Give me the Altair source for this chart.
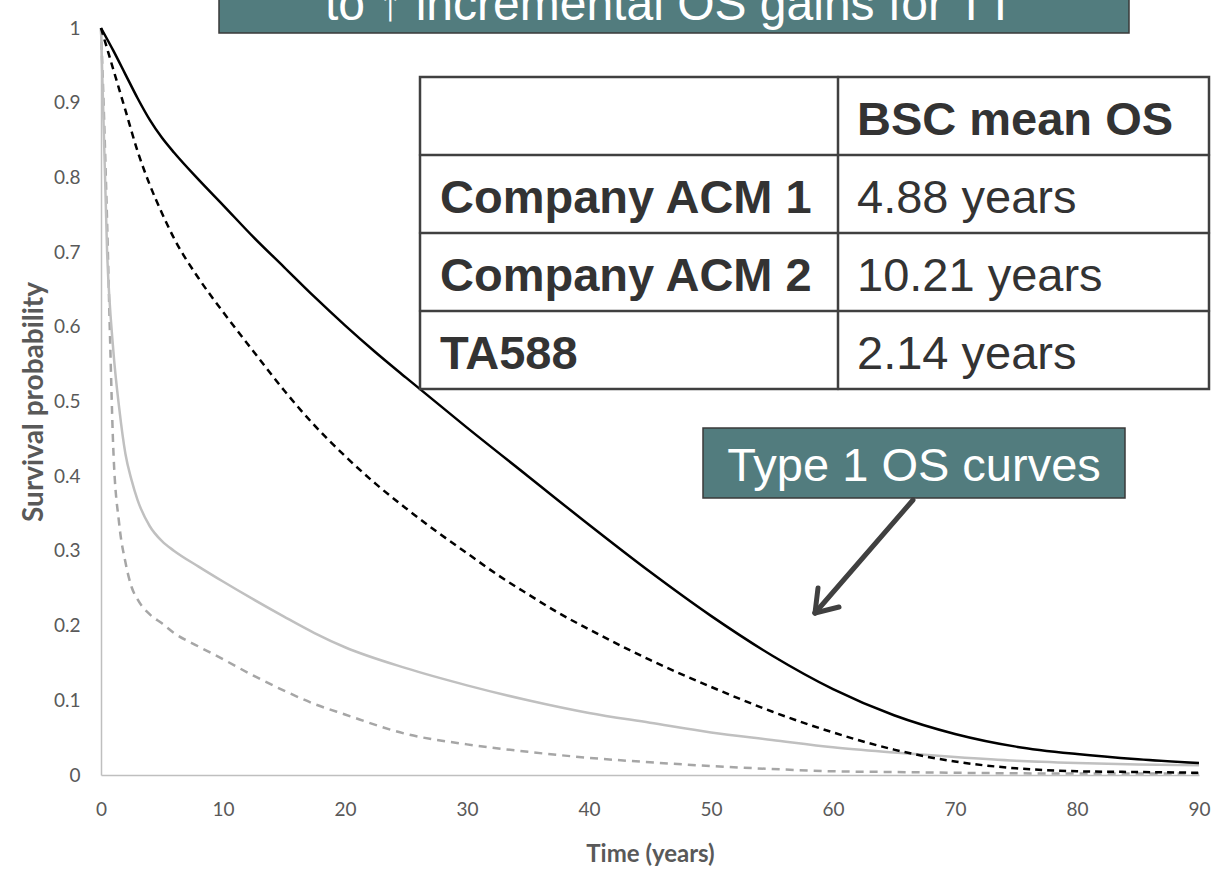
import altair as alt
import pandas as pd

# ---- survival curves (time in years, survival probability) ----
black_solid_t = [0, 1, 2, 3, 4, 5, 6, 8, 10, 12.5, 15, 17.5, 20, 22.5, 25, 30, 35, 40, 45, 50, 55, 60, 65, 70, 75,
                 80, 85, 90]
black_solid_s = [1.0, 0.97, 0.938, 0.906, 0.877, 0.853, 0.833, 0.797, 0.763, 0.72, 0.68, 0.64, 0.602, 0.566,
                 0.532, 0.465, 0.40, 0.335, 0.272, 0.213, 0.16, 0.115, 0.08, 0.055, 0.038, 0.028, 0.021, 0.016]

black_dashed_t = [0, 1, 2, 3, 4, 5, 6, 8, 10, 12.5, 15, 17.5, 20, 22.5, 25, 27.5, 30, 32.5, 35, 37.5, 40, 45, 50,
                  55, 60, 65, 70, 75, 80, 85, 90]
black_dashed_s = [1.0, 0.945, 0.89, 0.835, 0.79, 0.752, 0.718, 0.665, 0.62, 0.567, 0.515, 0.468, 0.427, 0.39,
                  0.357, 0.326, 0.297, 0.268, 0.242, 0.217, 0.195, 0.154, 0.118, 0.085, 0.057, 0.034, 0.018, 0.009,
                  0.005, 0.004, 0.003]

grey_solid_t = [0, 0.5, 1, 1.5, 2, 2.5, 3, 4, 5, 6, 8, 10, 12.5, 15, 17.5, 20, 25, 30, 35, 40, 45, 50, 55, 60, 65,
                70, 75, 80, 85, 90]
grey_solid_s = [1.0, 0.70, 0.57, 0.49, 0.43, 0.395, 0.368, 0.333, 0.313, 0.30, 0.279, 0.259, 0.235, 0.212, 0.19,
                0.171, 0.143, 0.12, 0.10, 0.083, 0.07, 0.057, 0.047, 0.037, 0.03, 0.024, 0.019, 0.016, 0.014, 0.013]

grey_dashed_t = [0, 0.25, 0.5, 0.75, 1, 1.5, 2, 2.5, 3, 4, 5, 6, 8, 10, 12.5, 15, 17.5, 20, 25, 30, 35, 40, 45, 50,
                 55, 60, 65, 70, 80, 90]
grey_dashed_s = [1.0, 0.88, 0.74, 0.58, 0.44, 0.335, 0.285, 0.252, 0.235, 0.215, 0.203, 0.19, 0.172, 0.155, 0.133,
                 0.113, 0.095, 0.081, 0.055, 0.041, 0.031, 0.023, 0.017, 0.012, 0.008, 0.005, 0.004, 0.003, 0.002,
                 0.002]

# ---- summary table ----
header_text = "BSC mean OS"
row_labels = ["Company ACM 1", "Company ACM 2", "TA588"]
bsc_mean_os = [4.88, 10.21, 2.14]

x_ticks = list(range(0, 91, 10))
y_ticks = [round(i * 0.1, 1) for i in range(11)]

W, H = 1098, 747
AXIS_GREY = "#595959"
TEAL = "#527c7e"
INK = "#333333"
LINE = "#404040"

x_enc = alt.X(
    "t:Q",
    scale=alt.Scale(domain=[0, 90], nice=False),
    title="Time (years)",
    axis=alt.Axis(
        values=x_ticks, grid=False, ticks=False, tickSize=0, labelFlush=False,
        domainColor="#bfbfbf", domainWidth=1.5,
        labelFont="Lato", labelFontSize=19, labelColor=AXIS_GREY, labelPadding=25,
        titleFont="Lato", titleFontWeight="bold", titleFontSize=24, titleColor=AXIS_GREY,
        titleBaseline="alphabetic", titleX=W / 2, titleY=86,
    ),
)
y_enc = alt.Y(
    "s:Q",
    scale=alt.Scale(domain=[0, 1], nice=False),
    title="Survival probability",
    axis=alt.Axis(
        values=y_ticks, format="~g", grid=False, ticks=False, tickSize=0, labelFlush=False,
        domainColor="#bfbfbf", domainWidth=1.5,
        labelFont="Lato", labelFontSize=19, labelColor=AXIS_GREY, labelPadding=21,
        titleFont="Lato", titleFontWeight="bold", titleFontSize=28, titleColor=AXIS_GREY,
        titleBaseline="alphabetic", titleAngle=270, titleX=-59, titleY=H / 2,
    ),
)


def curve(ts, ss, color, width, dash=None):
    df = pd.DataFrame({"t": ts, "s": ss})
    kw = dict(color=color, strokeWidth=width, interpolate="monotone")
    if dash:
        kw["strokeDash"] = dash
    return alt.Chart(df).mark_line(**kw).encode(x=x_enc, y=y_enc)


blank = alt.Data(values=[{}])


def rect(x, x2, y, y2, fill, stroke, sw):
    return alt.Chart(blank).mark_rect(fill=fill, stroke=stroke, strokeWidth=sw).encode(
        x=alt.value(x), x2=alt.value(x2), y=alt.value(y), y2=alt.value(y2))


def rule(x, y, x2, y2, color, sw):
    return alt.Chart(blank).mark_rule(color=color, strokeWidth=sw, strokeCap="round").encode(
        x=alt.value(x), x2=alt.value(x2), y=alt.value(y), y2=alt.value(y2))


def text(s, x, y, size, weight="normal", color=INK, align="left"):
    return alt.Chart(blank).mark_text(
        text=s, font="Liberation Sans", fontSize=size, fontWeight=weight, color=color,
        align=align, baseline="alphabetic").encode(x=alt.value(x), y=alt.value(y))


layers = [
    curve(grey_dashed_t, grey_dashed_s, "#a6a6a6", 2.5, [8, 6]),
    curve(grey_solid_t, grey_solid_s, "#c0c0c0", 2.5),
    curve(black_dashed_t, black_dashed_s, "#000000", 2.5, [7, 5]),
    curve(black_solid_t, black_solid_s, "#000000", 2.5),
]

# table with the BSC mean OS per source
t_left, t_mid, t_right = 319, 737, 1108
t_top, row_h = 49, 78
n_rows = len(row_labels) + 1
t_bottom = t_top + n_rows * row_h
layers.append(rect(t_left, t_right, t_top, t_bottom, "white", LINE, 2.5))
layers.append(rule(t_mid, t_top, t_mid, t_bottom, LINE, 2.5))
for i in range(1, n_rows):
    yy = t_top + i * row_h
    layers.append(rule(t_left, yy, t_right, yy, LINE, 2.5))
layers.append(text(header_text, t_mid + 19, t_top + row_h - 20, 47, "bold"))
for i, (lab, val) in enumerate(zip(row_labels, bsc_mean_os)):
    base = t_top + (i + 2) * row_h - 20
    layers.append(text(lab, t_left + 20, base, 47, "bold"))
    layers.append(text(f"{val:.2f} years", t_mid + 19, base, 47))

# heading banner at the top
layers.append(rect(118, 1028, -48, 5, TEAL, "#3a3a3a", 1.5))
layers.append(text("to  \u2191  incremental OS gains for TT", 569, -8, 48, color="white", align="center"))

# call-out box with arrow
layers.append(rect(602, 1024, 400, 470, TEAL, "#3a3a3a", 1.5))
layers.append(text("Type 1 OS curves", 813, 453, 47, color="white", align="center"))
tip_x, tip_y = 714, 585
layers.append(rule(812, 472, tip_x, tip_y, LINE, 5))
layers.append(rule(tip_x, tip_y, 738, 579, LINE, 5))
layers.append(rule(tip_x, tip_y, 717, 560, LINE, 5))

chart = alt.layer(*layers).properties(
    width=W, height=H,
    padding={"left": 101, "top": 28, "right": 15, "bottom": 95},
    autosize=alt.AutoSizeParams(type="none"),
    background="white",
).configure_view(stroke=None)

chart.save("out.html", embed_options={"renderer": "svg", "actions": False})
